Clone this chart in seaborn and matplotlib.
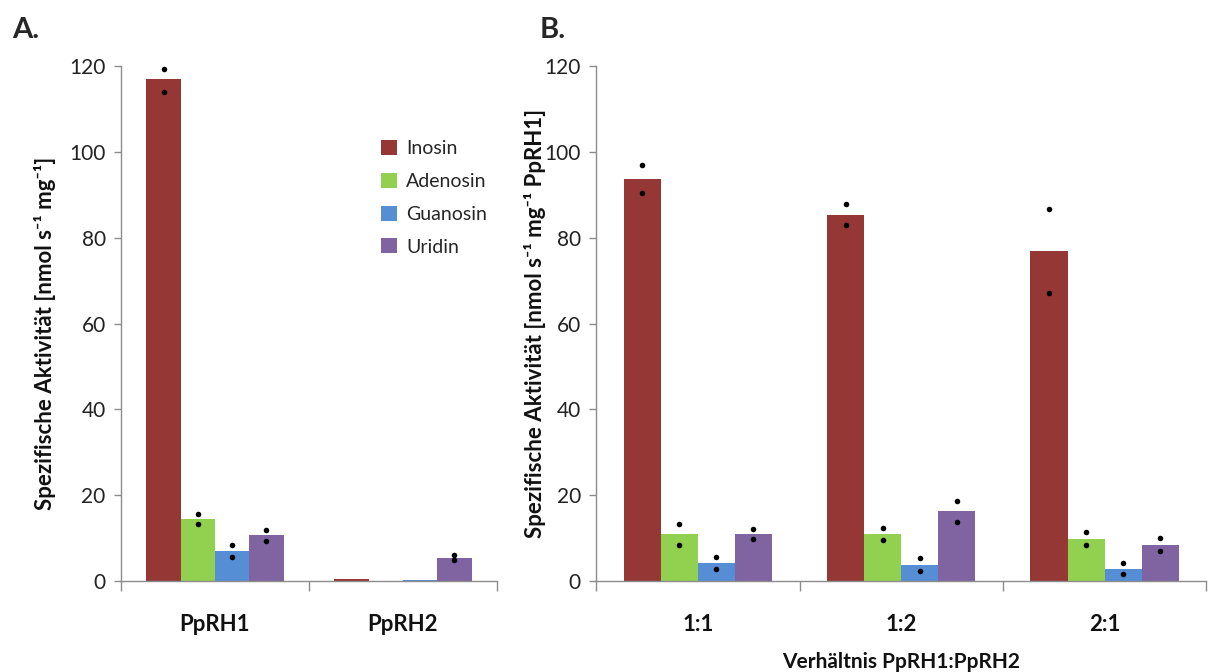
import numpy as np
import pandas as pd
import matplotlib
matplotlib.use("Agg")
import matplotlib.pyplot as plt
from matplotlib.patches import Patch
import seaborn as sns

# ---------------- data ----------------
SUBSTRATES = ["Inosin", "Adenosin", "Guanosin", "Uridin"]
COLORS = ["#953735", "#92D050", "#558ED5", "#8064A2"]

# panel A: enzymes
ENZYMES = ["PpRH1", "PpRH2"]
A_MEAN = {
    "Inosin":   [117.0, 0.4],
    "Adenosin": [14.4, 0.0],
    "Guanosin": [7.0, 0.3],
    "Uridin":   [10.7, 5.4],
}
A_REP1 = {
    "Inosin":   [119.4, np.nan],
    "Adenosin": [15.6, np.nan],
    "Guanosin": [8.5, np.nan],
    "Uridin":   [12.0, 6.1],
}
A_REP2 = {
    "Inosin":   [114.0, np.nan],
    "Adenosin": [13.3, np.nan],
    "Guanosin": [5.6, np.nan],
    "Uridin":   [9.3, 4.9],
}

# panel B: mixing ratios
RATIOS = ["1:1", "1:2", "2:1"]
B_MEAN = {
    "Inosin":   [93.7, 85.3, 77.0],
    "Adenosin": [11.0, 11.0, 9.9],
    "Guanosin": [4.2, 3.7, 2.9],
    "Uridin":   [10.9, 16.3, 8.5],
}
B_REP1 = {
    "Inosin":   [96.9, 87.8, 86.7],
    "Adenosin": [13.3, 12.3, 11.4],
    "Guanosin": [5.6, 5.3, 4.2],
    "Uridin":   [12.1, 18.7, 10.1],
}
B_REP2 = {
    "Inosin":   [90.4, 83.0, 67.2],
    "Adenosin": [8.5, 9.6, 8.5],
    "Guanosin": [2.9, 2.3, 1.6],
    "Uridin":   [9.8, 13.8, 6.9],
}

Y_TICKS = [0, 20, 40, 60, 80, 100, 120]

# ---------------- style ----------------
sns.set_theme(style="white")
plt.rcParams["font.family"] = ["Lato", "DejaVu Sans"]
plt.rcParams.update({
    "axes.edgecolor": "#8c8c8c",
    "axes.linewidth": 1.0,
    "xtick.color": "#8c8c8c",
    "ytick.color": "#8c8c8c",
    "xtick.labelcolor": "#111111",
    "ytick.labelcolor": "#222222",
})


def long_frame(cats, values):
    rows = []
    for sub in SUBSTRATES:
        for cat, v in zip(cats, values[sub]):
            rows.append({"cat": cat, "substrate": sub, "value": v})
    return pd.DataFrame(rows)


def draw_panel(ax, cats, means, rep1, rep2, ylabel):
    df = long_frame(cats, means)
    sns.barplot(data=df, x="cat", y="value", hue="substrate",
                order=cats, hue_order=SUBSTRATES, palette=COLORS,
                width=0.73, gap=0, errorbar=None, saturation=1,
                linewidth=0, legend=False, ax=ax)

    # replicate dots on top of each bar (patches are hue-major)
    bars = [p for p in ax.patches]
    k = 0
    for sub in SUBSTRATES:
        for i in range(len(cats)):
            p = bars[k]
            k += 1
            xc = p.get_x() + p.get_width() / 2
            for reps in (rep1, rep2):
                v = reps[sub][i]
                if not np.isnan(v):
                    ax.scatter(xc, v, s=16, color="black", zorder=5, lw=0)

    n = len(cats)
    ax.set_xlim(-0.5, n - 0.5)
    ax.set_ylim(0, 120)
    ax.set_yticks(Y_TICKS)
    ax.tick_params(axis="y", labelsize=15, length=5, width=1, direction="out",
                   left=True, pad=6)
    # boundary ticks without labels, category labels on minor ticks
    ax.set_xticks(np.arange(-0.5, n, 1.0))
    ax.set_xticklabels([])
    ax.tick_params(axis="x", which="major", length=7, width=1, bottom=True)
    ax.set_xticks(np.arange(n), minor=True)
    ax.set_xticklabels(cats, minor=True, fontsize=16, fontweight="bold")
    ax.tick_params(axis="x", which="minor", length=0, pad=24)
    ax.set_xlabel("")
    ax.set_ylabel(ylabel, fontsize=16, fontweight="bold", color="#111111")
    sns.despine(ax=ax)


fig = plt.figure(figsize=(12.11, 6.72), dpi=100)
axA = fig.add_axes([0.0999, 0.1354, 0.3105, 0.7664])
axB = fig.add_axes([0.4922, 0.1354, 0.5040, 0.7664])

draw_panel(axA, ENZYMES, A_MEAN, A_REP1, A_REP2,
           "Spezifische Aktivität [nmol s⁻¹ mg⁻¹]")
draw_panel(axB, RATIOS, B_MEAN, B_REP1, B_REP2,
           "Spezifische Aktivität [nmol s⁻¹ mg⁻¹ PpRH1]")
axA.yaxis.set_label_coords(-0.172, 0.48)
axB.yaxis.set_label_coords(-0.082, 0.50)

axB.set_xlabel("Verhältnis PpRH1:PpRH2", fontsize=15, fontweight="bold",
               color="#111111", labelpad=12)

handles = [Patch(facecolor=c, edgecolor="none") for c in COLORS]
axA.legend(handles, SUBSTRATES, loc="upper left", bbox_to_anchor=(0.645, 0.89),
           frameon=False, fontsize=14, handlelength=0.8, handleheight=0.8,
           labelspacing=0.8, handletextpad=0.5)

fig.text(0.010, 0.955, "A.", fontsize=21, fontweight="bold", va="center")
fig.text(0.446, 0.955, "B.", fontsize=21, fontweight="bold", va="center")

fig.savefig("out.png", dpi=100, facecolor="white")
